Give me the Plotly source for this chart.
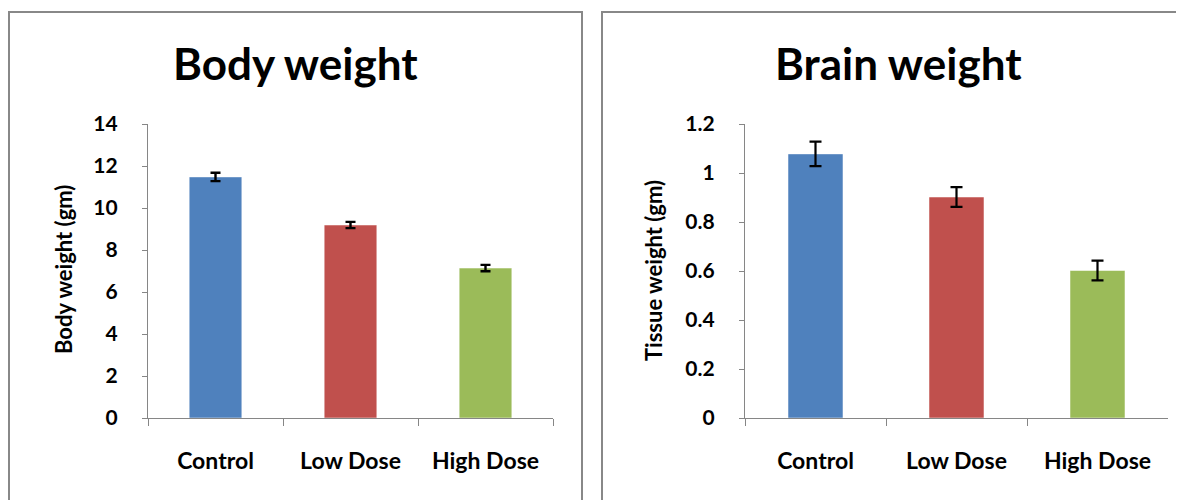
import plotly.graph_objects as go

categories = ["Control", "Low Dose", "High Dose"]
body_weight = [11.48, 9.19, 7.14]
body_err = [0.2, 0.15, 0.15]
brain_weight = [1.078, 0.902, 0.602]
brain_err = [0.05, 0.04, 0.04]
colors = ["#4F81BD", "#C0504D", "#9BBB59"]
body_ticks = [0, 2, 4, 6, 8, 10, 12, 14]
brain_ticks = [0, 0.2, 0.4, 0.6, 0.8, 1, 1.2]
brain_ticklabels = ["0", "0.2", "0.4", "0.6", "0.8", "1", "1.2"]

W, H = 1184, 500
OFF = 8  # page body margin
def px(x): return (x - OFF) / W
def py(y): return 1 - (y - OFF) / H

FONT = "Lato"
fig = go.Figure()
fig.add_trace(go.Bar(x=categories, y=body_weight, width=0.39,
                     marker=dict(color=colors, line=dict(color="rgba(255,255,255,0.5)", width=1)),
                     error_y=dict(type="data", array=body_err, color="black", thickness=2.4, width=5),
                     xaxis="x", yaxis="y", showlegend=False))
fig.add_trace(go.Bar(x=categories, y=brain_weight, width=0.39,
                     marker=dict(color=colors, line=dict(color="rgba(255,255,255,0.5)", width=1)),
                     error_y=dict(type="data", array=brain_err, color="black", thickness=2.2, width=6),
                     xaxis="x2", yaxis="y2", showlegend=False))

axcol = "#868686"
xcommon = dict(showline=True, linecolor=axcol, linewidth=1.3, ticks="outside", tickson="boundaries",
               ticklen=7, tickcolor=axcol, showgrid=False, zeroline=False, automargin=False,
               tickfont=dict(family=FONT, size=23, color="black", weight="bold"),
               ticklabelstandoff=22, fixedrange=True)
ycommon = dict(showline=True, linecolor=axcol, linewidth=1.3, ticks="outside", ticklen=5,
               tickcolor=axcol, showgrid=False, zeroline=False, automargin=False,
               tickfont=dict(family=FONT, size=21, color="black", weight="bold"),
               ticklabelstandoff=20, fixedrange=True)

fig.update_layout(
    template="none",
    width=W, height=H, margin=dict(l=0, r=0, t=0, b=0, pad=0),
    paper_bgcolor="white", plot_bgcolor="white",
    xaxis=dict(domain=[px(148), px(553)], anchor="y", **xcommon),
    yaxis=dict(domain=[py(418), py(124)], anchor="x", range=[0, 14], tickvals=body_ticks, **ycommon),
    xaxis2=dict(domain=[px(745), px(1168)], anchor="y2", **xcommon),
    yaxis2=dict(domain=[py(418), py(124)], anchor="x2", range=[0, 1.2], tickvals=brain_ticks,
                ticktext=brain_ticklabels, **ycommon),
    bargap=0.61,
)

ann = dict(xref="paper", yref="paper", showarrow=False, xanchor="center", yanchor="middle")
fig.add_annotation(text="Body weight", x=px(295), y=py(63),
                   font=dict(family=FONT, size=44, color="black", weight="bold"), **ann)
fig.add_annotation(text="Brain weight", x=px(898), y=py(63),
                   font=dict(family=FONT, size=44, color="black", weight="bold"), **ann)
fig.add_annotation(text="Body weight (gm)", x=px(63), y=py(270), textangle=-90,
                   font=dict(family=FONT, size=22, color="black", weight="bold"), **ann)
fig.add_annotation(text="Tissue weight (gm)", x=px(653), y=py(271), textangle=-90,
                   font=dict(family=FONT, size=22, color="black", weight="bold"), **ann)

fig.add_shape(type="rect", xref="paper", yref="paper", x0=px(9), x1=px(582), y0=py(530), y1=py(12),
              line=dict(color="#888888", width=2), fillcolor="rgba(0,0,0,0)", layer="below")
fig.add_shape(type="rect", xref="paper", yref="paper", x0=px(602), x1=px(1210), y0=py(530), y1=py(12),
              line=dict(color="#888888", width=2), fillcolor="rgba(0,0,0,0)", layer="below")

fig.write_html("out.html")
